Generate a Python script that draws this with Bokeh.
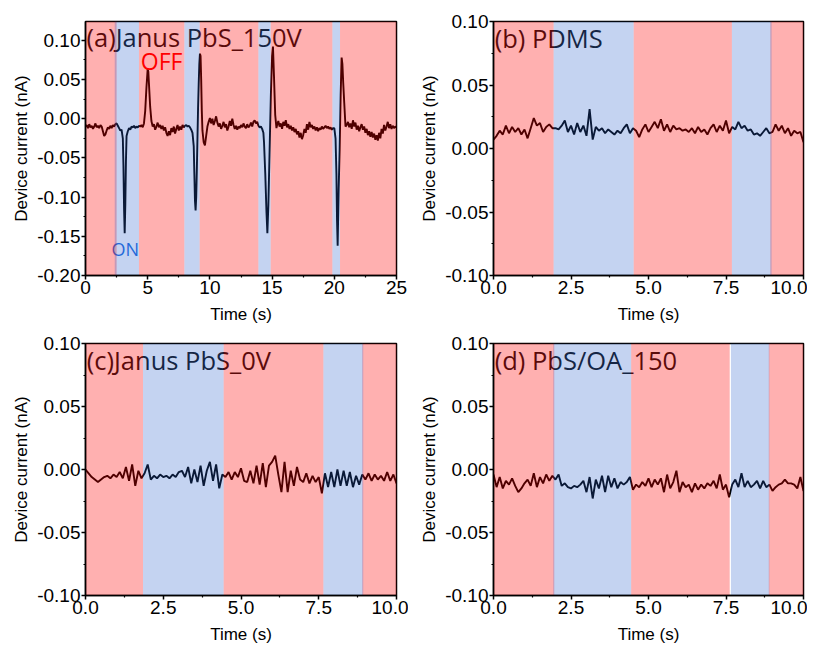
import numpy as np
from bokeh.plotting import figure
from bokeh.layouts import column, row
from bokeh.models import Range1d, FixedTicker, PrintfTickFormatter
from bokeh.core.properties import value
from bokeh.embed import file_html
from bokeh.resources import INLINE

# ---------------- data ----------------
# panel (a) Janus PbS_150V : time (s) and device current (nA)
t_a = [0.0, 0.1, 0.2, 0.3, 0.4, 0.5, 0.6, 0.7, 0.8, 0.9,
       1.0, 1.1, 1.2, 1.3, 1.4, 1.5, 1.6, 1.7, 1.8, 1.9,
       2.0, 2.1, 2.2, 2.3, 2.4, 2.5, 2.6, 2.7, 2.8, 2.9,
       3.0, 3.05, 3.1, 3.15, 3.2, 3.25, 3.3, 3.4, 3.5, 3.6,
       3.7, 3.8, 3.9, 4.0, 4.1, 4.2, 4.3, 4.4, 4.5, 4.6,
       4.7, 4.8, 4.9, 5.0, 5.05, 5.1, 5.2, 5.3, 5.4, 5.5,
       5.6, 5.7, 5.8, 5.9, 6.0, 6.1, 6.2, 6.3, 6.4, 6.5,
       6.6, 6.7, 6.8, 6.9, 7.0, 7.1, 7.2, 7.3, 7.4, 7.5,
       7.6, 7.7, 7.8, 7.9, 8.0, 8.1, 8.2, 8.3, 8.4, 8.5,
       8.6, 8.7, 8.75, 8.8, 8.85, 8.9, 8.95, 9.0, 9.05, 9.1,
       9.15, 9.2, 9.25, 9.3, 9.35, 9.4, 9.5, 9.6, 9.7, 9.8,
       9.9, 10.0, 10.1, 10.2, 10.3, 10.4, 10.5, 10.6, 10.7, 10.8,
       10.9, 11.0, 11.1, 11.2, 11.3, 11.4, 11.5, 11.6, 11.7, 11.8,
       11.9, 12.0, 12.1, 12.2, 12.3, 12.4, 12.5, 12.6, 12.7, 12.8,
       12.9, 13.0, 13.1, 13.2, 13.3, 13.4, 13.5, 13.6, 13.7, 13.8,
       13.9, 14.0, 14.1, 14.2, 14.3, 14.35, 14.45, 14.55, 14.62, 14.7,
       14.8, 14.9, 15.0, 15.07, 15.15, 15.25, 15.35, 15.4, 15.5, 15.6,
       15.7, 15.8, 15.9, 16.0, 16.1, 16.2, 16.3, 16.4, 16.5, 16.6,
       16.7, 16.8, 16.9, 17.0, 17.1, 17.2, 17.3, 17.4, 17.5, 17.6,
       17.7, 17.8, 17.9, 18.0, 18.1, 18.2, 18.3, 18.4, 18.5, 18.6,
       18.7, 18.8, 18.9, 19.0, 19.1, 19.2, 19.3, 19.4, 19.5, 19.6,
       19.7, 19.8, 19.9, 20.0, 20.1, 20.17, 20.22, 20.27, 20.35, 20.43,
       20.51, 20.59, 20.65, 20.72, 20.8, 20.9, 21.0, 21.1, 21.2, 21.3,
       21.4, 21.5, 21.6, 21.7, 21.8, 21.9, 22.0, 22.1, 22.2, 22.3,
       22.4, 22.5, 22.6, 22.7, 22.8, 22.9, 23.0, 23.1, 23.2, 23.3,
       23.4, 23.5, 23.6, 23.7, 23.8, 23.9, 24.0, 24.1, 24.2, 24.3,
       24.4, 24.5, 24.6, 24.7, 24.8, 24.9, 25.0]
i_a = [-0.010, -0.008, -0.012, -0.007, -0.011, -0.009, -0.013, -0.010, -0.006, -0.011,
       -0.009, -0.012, -0.008, -0.010, -0.016, -0.022, -0.020, -0.015, -0.011, -0.013,
       -0.009, -0.012, -0.008, -0.010, -0.007, -0.006, -0.009, -0.012, -0.015, -0.014,
       -0.025, -0.060, -0.115, -0.146, -0.110, -0.055, -0.022, -0.016, -0.012, -0.014,
       -0.010, -0.011, -0.009, -0.012, -0.010, -0.011, -0.009, -0.010, -0.008, -0.011,
       -0.006, 0.010, 0.040, 0.064, 0.060, 0.045, 0.015, -0.003, -0.010, -0.007,
       -0.014, -0.010, -0.005, -0.011, -0.008, -0.013, -0.009, -0.015, -0.011, -0.018,
       -0.022, -0.016, -0.021, -0.012, -0.017, -0.010, -0.019, -0.013, -0.008, -0.015,
       -0.010, -0.014, -0.008, -0.011, -0.009, -0.008, -0.010, -0.009, -0.011, -0.014,
       -0.018, -0.035, -0.070, -0.105, -0.117, -0.100, -0.065, -0.025, 0.015, 0.045,
       0.070, 0.083, 0.080, 0.050, 0.010, -0.015, -0.030, -0.034, -0.022, -0.010,
       -0.004, 0.001, -0.006, 0.000, -0.008, -0.003, 0.003, -0.005, -0.010, -0.006,
       -0.013, -0.009, -0.004, -0.011, -0.007, -0.015, -0.010, -0.003, -0.009, 0.000,
       -0.008, -0.013, -0.009, -0.014, -0.010, -0.012, -0.008, -0.011, -0.006, -0.010,
       -0.012, -0.007, -0.011, -0.009, -0.005, -0.010, -0.004, -0.002, -0.006, -0.004,
       -0.009, -0.011, -0.010, -0.013, -0.018, -0.030, -0.070, -0.120, -0.146, -0.110,
       -0.040, 0.030, 0.080, 0.092, 0.055, 0.005, -0.012, -0.008, -0.003, -0.010,
       -0.006, -0.013, -0.004, -0.009, -0.002, -0.011, -0.007, -0.013, -0.009, -0.015,
       -0.011, -0.017, -0.013, -0.020, -0.016, -0.024, -0.018, -0.026, -0.021, -0.013,
       -0.018, -0.007, -0.014, -0.004, -0.011, -0.008, -0.013, -0.010, -0.015, -0.011,
       -0.016, -0.012, -0.014, -0.010, -0.013, -0.011, -0.009, -0.012, -0.010, -0.013,
       -0.011, -0.014, -0.012, -0.012, -0.025, -0.070, -0.130, -0.162, -0.090, -0.040,
       0.030, 0.078, 0.070, 0.045, 0.020, -0.010, -0.008, -0.004, -0.011, -0.006,
       -0.013, -0.002, -0.010, -0.005, -0.014, -0.009, -0.016, -0.011, -0.007, -0.014,
       -0.010, -0.018, -0.013, -0.021, -0.016, -0.023, -0.017, -0.024, -0.019, -0.027,
       -0.021, -0.028, -0.018, -0.025, -0.013, -0.019, -0.008, -0.015, -0.010, -0.004,
       -0.012, -0.007, -0.013, -0.009, -0.012, -0.010, -0.011]

# panels (b)-(d): sampled every 0.1 s from 0 to 10 s
t_10 = np.round(np.arange(101) * 0.1, 1)

i_b = [0.007, 0.010, 0.014, 0.011, 0.018, 0.012, 0.017, 0.013, 0.016, 0.011,
       0.015, 0.008, 0.016, 0.024, 0.018, 0.020, 0.013, 0.017, 0.019, 0.016,
       0.016, 0.015, 0.018, 0.022, 0.013, 0.018, 0.011, 0.020, 0.013, 0.018,
       0.010, 0.031, 0.007, 0.017, 0.014, 0.016, 0.012, 0.015, 0.013, 0.011,
       0.014, 0.012, 0.016, 0.019, 0.012, 0.016, 0.014, 0.009, 0.015, 0.019,
       0.013, 0.017, 0.021, 0.016, 0.023, 0.014, 0.019, 0.013, 0.018, 0.015,
       0.016, 0.014, 0.015, 0.013, 0.016, 0.012, 0.017, 0.013, 0.015, 0.011,
       0.016, 0.019, 0.013, 0.018, 0.014, 0.022, 0.012, 0.017, 0.015, 0.021,
       0.016, 0.018, 0.014, 0.015, 0.011, 0.012, 0.010, 0.013, 0.016, 0.012,
       0.013, 0.019, 0.014, 0.018, 0.012, 0.016, 0.010, 0.014, 0.012, 0.013,
       0.005]

i_c = [0.000, -0.003, -0.006, -0.008, -0.010, -0.008, -0.006, -0.005, -0.007, -0.004,
       -0.006, -0.002, -0.007, 0.002, -0.009, 0.004, -0.013, -0.001, -0.007, -0.003,
       0.004, -0.008, -0.005, -0.007, -0.004, -0.006, -0.005, -0.007, -0.004, -0.006,
       -0.002, -0.001, -0.006, 0.002, -0.011, 0.000, -0.010, 0.003, -0.013, -0.001,
       0.006, -0.009, 0.004, -0.015, -0.004, -0.006, -0.002, -0.008, -0.002, -0.006,
       0.001, -0.009, -0.010, -0.001, -0.011, 0.003, -0.012, 0.005, -0.014, 0.003,
       0.006, 0.011, -0.004, -0.018, 0.006, -0.018, -0.001, -0.013, 0.002, -0.008,
       -0.010, -0.003, -0.011, -0.005, -0.010, -0.006, -0.019, -0.003, -0.014, -0.002,
       -0.014, 0.000, -0.013, -0.001, -0.013, -0.002, -0.014, -0.005, -0.012, -0.004,
       -0.008, -0.003, -0.009, -0.004, -0.008, -0.005, -0.009, -0.002, -0.009, -0.004,
       -0.011]

i_d = [-0.004, -0.014, -0.006, -0.015, -0.009, -0.012, -0.007, -0.013, -0.018, -0.015,
       -0.011, -0.008, -0.013, -0.003, -0.014, -0.006, -0.011, -0.004, -0.009, -0.005,
       -0.008, -0.004, -0.013, -0.011, -0.014, -0.015, -0.013, -0.014, -0.012, -0.009,
       -0.018, -0.006, -0.023, -0.008, -0.015, -0.005, -0.018, -0.005, -0.014, -0.007,
       -0.015, -0.010, -0.012, -0.010, -0.006, -0.016, -0.012, -0.014, -0.010, -0.013,
       -0.007, -0.014, -0.008, -0.012, -0.007, -0.018, -0.004, -0.015, -0.010, -0.001,
       -0.018, -0.010, -0.014, -0.012, -0.018, -0.011, -0.016, -0.012, -0.015, -0.011,
       -0.013, -0.009, -0.015, -0.004, -0.016, -0.012, -0.022, -0.012, -0.008, -0.014,
       -0.003, -0.014, -0.009, -0.014, -0.012, -0.009, -0.015, -0.009, -0.014, -0.012,
       -0.017, -0.014, -0.012, -0.011, -0.008, -0.011, -0.011, -0.012, -0.015, -0.006,
       -0.017]

# OFF (red) and ON (blue) time windows, s
off_a = [(0.0, 2.5), (4.3, 7.95), (9.17, 13.9), (14.88, 19.85), (20.46, 25.0)]
on_a = [(2.35, 4.3), (7.95, 9.17), (13.9, 14.88), (19.85, 20.46)]
off_b = [(0.0, 1.94), (4.52, 7.69), (8.93, 10.0)]
on_b = [(1.94, 4.52), (7.69, 8.97)]
off_c = [(0.0, 1.85), (4.44, 7.65), (8.9, 10.0)]
on_c = [(1.85, 4.44), (7.65, 8.93)]
off_d = [(0.0, 1.96), (4.44, 7.62), (8.88, 10.0)]
on_d = [(1.93, 4.44), (7.66, 8.9)]

# ticks
xt_a = [0, 5, 10, 15, 20, 25]
xm_a = [2.5, 7.5, 12.5, 17.5, 22.5]
yt_a = [-0.20, -0.15, -0.10, -0.05, 0.0, 0.05, 0.10]
ym_a = [-0.175, -0.125, -0.075, -0.025, 0.025, 0.075]
xt_10 = [0.0, 2.5, 5.0, 7.5, 10.0]
xm_10 = [1.25, 3.75, 6.25, 8.75]
yt_10 = [-0.10, -0.05, 0.0, 0.05, 0.10]
ym_10 = [-0.075, -0.025, 0.025, 0.075]

titles = ["(a)Janus PbS_150V", "(b) PDMS", "(c)Janus PbS_0V", "(d) PbS/OA_150"]

RED = "#ff0000"
BLUE = "#255dcc"


def panel(t, cur, xmax, ylo, yhi, offs, ons, title, tx, ty, xt, xm, yt, ym, xfmt,
          fw, fh, bl, br, bt, bb, extra=None):
    p = figure(frame_width=fw, frame_height=fh,
               x_range=Range1d(0, xmax), y_range=Range1d(ylo, yhi),
               output_backend="svg", toolbar_location=None,
               min_border_left=bl, min_border_right=br,
               min_border_top=bt, min_border_bottom=bb)
    p.grid.visible = False
    p.background_fill_color = "white"
    p.outline_line_color = "black"
    p.outline_line_width = 1.5
    p.outline_line_alpha = 1.0

    p.line(t, cur, line_color="black", line_width=1.9)
    p.text(x=[tx], y=[ty], text=[title], text_font=value("Open Sans"),
           text_font_size="25.5px", text_color="#111111", text_baseline="alphabetic")
    if extra:
        for (ex, ey, et, ec, es) in extra:
            p.text(x=[ex], y=[ey], text=[et], text_font=value("Open Sans"),
                   text_font_size=es, text_color=ec, text_baseline="alphabetic")

    # translucent OFF / ON windows laid over the trace
    p.quad(left=[s[0] for s in offs], right=[s[1] for s in offs],
           bottom=ylo, top=yhi, fill_color=RED, fill_alpha=0.31, line_color=None)
    p.quad(left=[s[0] for s in ons], right=[s[1] for s in ons],
           bottom=ylo, top=yhi, fill_color=BLUE, fill_alpha=0.27, line_color=None)

    p.xaxis.ticker = FixedTicker(ticks=xt, minor_ticks=xm)
    p.yaxis.ticker = FixedTicker(ticks=yt, minor_ticks=ym)
    p.xaxis.formatter = PrintfTickFormatter(format=xfmt)
    p.yaxis.formatter = PrintfTickFormatter(format="%.2f")
    p.xaxis.axis_label = "Time (s)"
    p.yaxis.axis_label = "Device current (nA)"
    for ax in (p.xaxis[0], p.yaxis[0]):
        ax.axis_line_width = 1.5
        ax.axis_line_color = "black"
        ax.major_tick_line_width = 1.5
        ax.minor_tick_line_width = 1.2
        ax.major_tick_in = 0
        ax.major_tick_out = 4
        ax.minor_tick_in = 0
        ax.minor_tick_out = 2
        ax.major_label_text_font = "Liberation Sans"
        ax.major_label_text_font_size = "19px"
        ax.major_label_text_color = "black"
        ax.major_label_standoff = 1
        ax.axis_label_text_font = "Liberation Sans"
        ax.axis_label_text_font_size = "17px"
        ax.axis_label_text_font_style = "normal"
        ax.axis_label_text_color = "black"
    p.xaxis.axis_label_standoff = 8
    p.yaxis.axis_label_standoff = 3
    return p


pa = panel(t_a, i_a, 25, -0.20, 0.124, off_a, on_a, titles[0], 0.08, 0.104,
           xt_a, xm_a, yt_a, ym_a, "%d", 311, 254, 85, 12, 21, 40,
           extra=[(4.45, 0.0735, "OFF", RED, "23px"),
                  (2.1, -0.166, "ON", "#1f6fe0", "18px")])
pb = panel(t_10, i_b, 10, -0.10, 0.10, off_b, on_b, titles[1], 0.04, 0.087,
           xt_10, xm_10, yt_10, ym_10, "%.1f", 310, 254, 85, 4, 21, 40)
pc = panel(t_10, i_c, 10, -0.10, 0.10, off_c, on_c, titles[2], 0.04, 0.087,
           xt_10, xm_10, yt_10, ym_10, "%.1f", 311, 252, 85, 12, 17, 40)
pd = panel(t_10, i_d, 10, -0.10, 0.10, off_d, on_d, titles[3], 0.04, 0.087,
           xt_10, xm_10, yt_10, ym_10, "%.1f", 310, 252, 85, 4, 17, 40)

layout = column(row(pa, pb), row(pc, pd))
open("out.html", "w").write(file_html(layout, INLINE))
